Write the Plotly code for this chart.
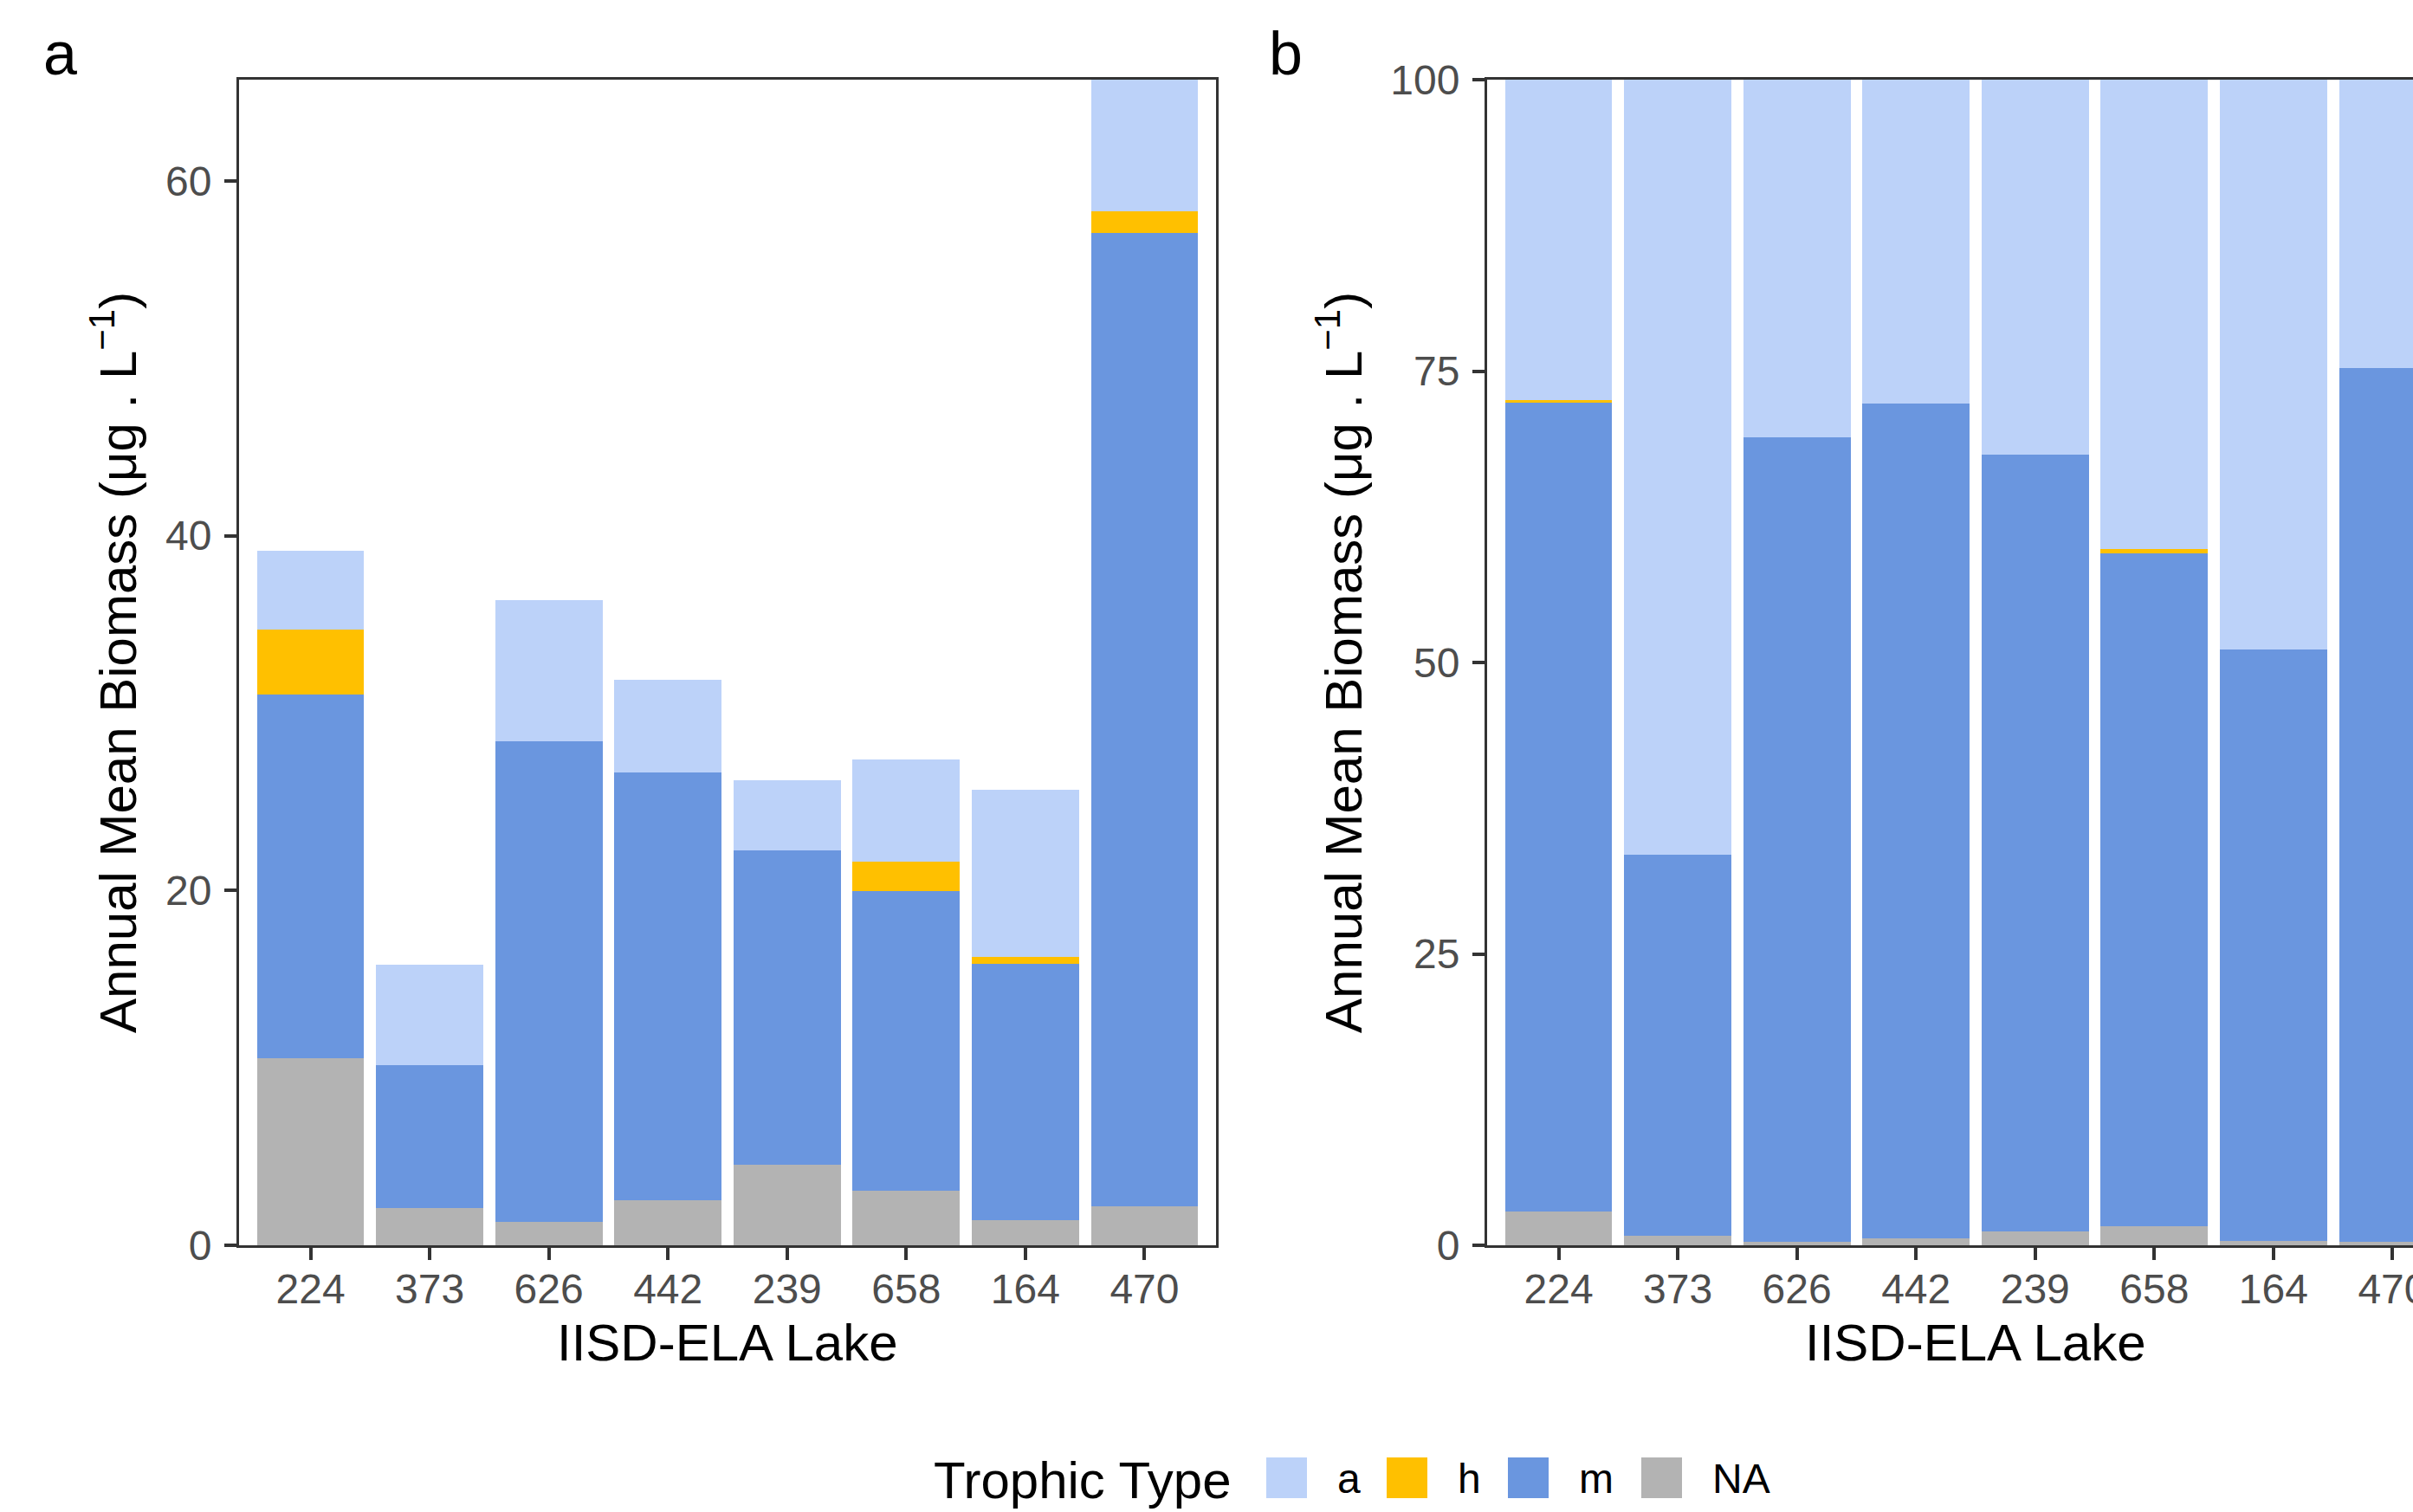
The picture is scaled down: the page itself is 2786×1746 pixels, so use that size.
import plotly.graph_objects as go

# ---------------- data ----------------
lakes = ["224", "373", "626", "442", "239", "658", "164", "470"]

# Panel a: annual mean biomass (ug/L), stacked segments
a_NA = [10.52, 2.09, 1.32, 2.53, 4.54, 3.06, 1.44, 2.21]
a_m = [20.50, 8.07, 27.11, 24.14, 17.74, 16.91, 14.44, 54.83]
a_h = [3.68, 0.0, 0.0, 0.0, 0.0, 1.66, 0.38, 1.26]
a_a = [4.45, 5.66, 7.95, 5.19, 3.94, 5.74, 9.40, 7.40]

# Panel b: relative (%) stacked segments
b_NA = [2.87, 0.85, 0.27, 0.59, 1.16, 1.64, 0.36, 0.28]
b_m = [69.41, 32.68, 69.03, 71.61, 66.64, 57.72, 50.72, 74.96]
b_h = [0.25, 0.0, 0.0, 0.0, 0.0, 0.35, 0.0, 0.0]
b_a = [27.47, 66.47, 30.70, 27.80, 32.20, 40.29, 48.92, 24.76]

series_names = ["NA", "m", "h", "a"]          # stacking order (bottom -> top)
legend_order = ["a", "h", "m", "NA"]
series_colors = {"a": "#BCD2F9", "h": "#FFC000", "m": "#6A96DF", "NA": "#B3B3B3"}

a_ticks = [0, 20, 40, 60]
b_ticks = [0, 25, 50, 75, 100]

# ---------------- layout constants ----------------
W, H = 2786, 1746
FONT = "Liberation Sans"
AX_COL = "#333333"
TICK_COL = "#4D4D4D"


def px(xp):
    return xp / W


def py(yp):
    return 1 - yp / H


pa_left, pa_right = 276, 1404
pb_left = 1717
unit = (pa_right - pa_left) / 8.2
pb_vis_max = -0.6 + (W - pb_left) / unit
plot_top, plot_bottom = 92, 1438

fig = go.Figure()

panel_a = {"NA": a_NA, "m": a_m, "h": a_h, "a": a_a}
panel_b = {"NA": b_NA, "m": b_m, "h": b_h, "a": b_a}

for name in series_names:
    fig.add_trace(go.Bar(x=lakes, y=panel_a[name], name=name,
                         marker=dict(color=series_colors[name], line=dict(width=0)),
                         xaxis="x", yaxis="y", showlegend=False))
for name in series_names:
    fig.add_trace(go.Bar(x=lakes, y=panel_b[name], name=name,
                         marker=dict(color=series_colors[name], line=dict(width=0)),
                         xaxis="x2", yaxis="y2", showlegend=False))

common_axis = dict(
    showline=True, linecolor=AX_COL, linewidth=3,
    ticks="outside", ticklen=14, tickwidth=4, tickcolor=AX_COL,
    tickfont=dict(family=FONT, size=48, color=TICK_COL),
    showgrid=False, zeroline=False, fixedrange=True, automargin=False,
)
x_axis = dict(common_axis, ticklabelstandoff=-8)
y_axis = dict(common_axis, ticklabelstandoff=5)

ydom = [py(plot_bottom), py(plot_top)]
a_max = sum(v[7] for v in (a_NA, a_m, a_h, a_a))

fig.update_layout(
    template="none",
    width=W, height=H,
    margin=dict(l=0, r=0, t=0, b=0, pad=0, autoexpand=False),
    paper_bgcolor="white", plot_bgcolor="white",
    barmode="stack", bargap=0.1,
    font=dict(family=FONT, color="black"),
    showlegend=False,
    xaxis=dict(domain=[px(pa_left), px(pa_right)], anchor="y", type="category",
               range=[-0.6, 7.6], mirror=True, **x_axis),
    yaxis=dict(domain=ydom, anchor="x", range=[0, a_max], tickvals=a_ticks,
               mirror=True, **y_axis),
    xaxis2=dict(domain=[px(pb_left), 1.0], anchor="y2", type="category",
                range=[-0.6, pb_vis_max], mirror=True, **x_axis),
    yaxis2=dict(domain=ydom, anchor="x2", range=[0, 100], tickvals=b_ticks,
                mirror=False, **y_axis),
)

ytitle = "Annual Mean Biomass (μg . L<sup>−1</sup>)"
annotations = []
# panel labels
for lab, xl in (("a", 48), ("b", 1463)):
    annotations.append(dict(text=lab, x=px(xl), y=py(62), xref="paper", yref="paper",
                            xanchor="left", yanchor="middle", showarrow=False,
                            font=dict(family=FONT, size=70, color="black")))
# axis titles
for xc in ((pa_left + pa_right) / 2, (pb_left + pb_left + 8.2 * unit) / 2):
    annotations.append(dict(text="IISD-ELA Lake", x=px(xc), y=py(1550), xref="paper", yref="paper",
                            xanchor="center", yanchor="middle", showarrow=False,
                            font=dict(family=FONT, size=60, color="black")))
for xc in (132, 1547):
    annotations.append(dict(text=ytitle, x=px(xc), y=py(765), xref="paper", yref="paper",
                            xanchor="center", yanchor="middle", textangle=-90, showarrow=False,
                            font=dict(family=FONT, size=60, color="black")))

# legend (manual, large keys)
annotations.append(dict(text="Trophic Type", x=px(1076), y=py(1709), xref="paper", yref="paper",
                        xanchor="left", yanchor="middle", showarrow=False,
                        font=dict(family=FONT, size=60, color="black")))
legend_key_x = [1462, 1601, 1741, 1895]
key_size = 47
shapes = []
for name, kx in zip(legend_order, legend_key_x):
    shapes.append(dict(type="rect", xref="paper", yref="paper",
                       x0=px(kx), x1=px(kx + key_size), y0=py(1683 + key_size), y1=py(1683),
                       fillcolor=series_colors[name], line=dict(width=0)))
    annotations.append(dict(text=name, x=px(kx + key_size + 33), y=py(1707), xref="paper", yref="paper",
                            xanchor="left", yanchor="middle", showarrow=False,
                            font=dict(family=FONT, size=48, color="black")))

fig.update_layout(annotations=annotations, shapes=shapes)

fig.write_html("out.html", config={"displayModeBar": False},
               post_script="document.body.style.margin='0';")
